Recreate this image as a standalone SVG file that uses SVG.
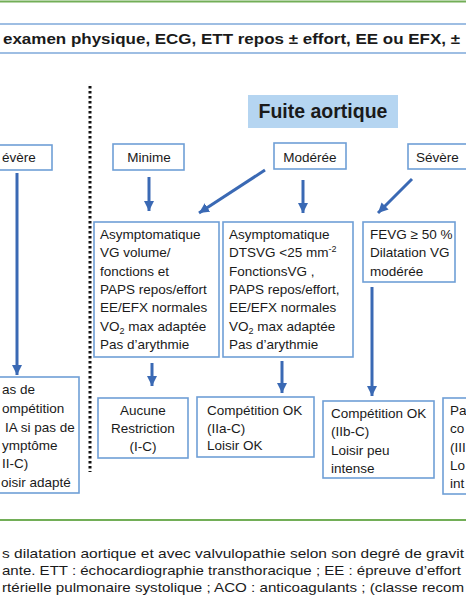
<svg xmlns="http://www.w3.org/2000/svg" width="466" height="600" viewBox="0 0 466 600">
<defs>
<style>
text{font-family:"Liberation Sans",Arial,sans-serif;fill:#1a1a1a}
.t{font-size:13.5px}
.box{fill:#fff;stroke:#6f9fd6;stroke-width:1.6}
.c{stroke:#3a69b4;stroke-width:3;fill:none}
.sub{font-size:9px}
</style>
<marker id="ah" viewBox="0 0 10 10" refX="10" refY="5" markerWidth="10" markerHeight="10" markerUnits="userSpaceOnUse" orient="auto">
<path d="M0,0 L10,5 L0,10 z" fill="#3a69b4"/>
</marker>
</defs>
<rect width="466" height="600" fill="#fff"/>
<line x1="0" y1="1.5" x2="466" y2="1.5" stroke="#72ae57" stroke-width="2"/>
<line x1="0" y1="24" x2="466" y2="24" stroke="#7ea8da" stroke-width="1.6"/>
<line x1="0" y1="53" x2="466" y2="53" stroke="#7ea8da" stroke-width="1.6"/>
<text x="3" y="44" font-weight="bold" font-size="15.5" textLength="457" lengthAdjust="spacingAndGlyphs">examen physique, ECG, ETT repos ± effort, EE ou EFX, ±</text>
<line x1="90" y1="86" x2="90" y2="472" stroke="#111" stroke-width="3" stroke-dasharray="2.5,2.5"/>

<g id="fuite">
<rect x="248" y="95" width="150" height="33" fill="#b5d5f1"/>
<text x="323" y="118" font-weight="bold" font-size="19.5" text-anchor="middle">Fuite aortique</text>
</g>
<g id="severe-left">
<rect class="box" x="-20" y="145" width="72" height="25"/>
<text class="t" x="2" y="162">évère</text>
</g>
<g id="minime">
<rect class="box" x="113" y="144" width="71" height="26"/>
<text class="t" x="149" y="162" text-anchor="middle">Minime</text>
</g>
<g id="moderee">
<rect class="box" x="274" y="143" width="72" height="26"/>
<text class="t" x="310" y="162" text-anchor="middle">Modérée</text>
</g>
<g id="severe-right">
<rect class="box" x="408" y="144" width="70" height="25"/>
<text class="t" x="416" y="162">Sévère</text>
</g>

<g id="boxA">
<rect class="box" x="94" y="222" width="125" height="135"/>
<text class="t" x="100" y="239">Asymptomatique</text>
<text class="t" x="100" y="257">VG volume/</text>
<text class="t" x="100" y="276">fonctions et</text>
<text class="t" x="100" y="294">PAPS repos/effort</text>
<text class="t" x="100" y="312">EE/EFX normales</text>
<text class="t" x="100" y="331">VO<tspan class="sub" dy="3">2</tspan><tspan dy="-3"> max adaptée</tspan></text>
<text class="t" x="100" y="349">Pas d’arythmie</text>
</g>
<g id="boxB">
<rect class="box" x="223" y="222" width="130" height="135"/>
<text class="t" x="229" y="239">Asymptomatique</text>
<text class="t" x="229" y="257">DTSVG &lt;25 mm<tspan class="sub" dy="-5">-2</tspan></text>
<text class="t" x="229" y="276">FonctionsVG ,</text>
<text class="t" x="229" y="294">PAPS repos/effort,</text>
<text class="t" x="229" y="312">EE/EFX normales</text>
<text class="t" x="229" y="331">VO<tspan class="sub" dy="3">2</tspan><tspan dy="-3"> max adaptée</tspan></text>
<text class="t" x="229" y="349">Pas d’arythmie</text>
</g>
<g id="boxC">
<rect class="box" x="363" y="222" width="92" height="60"/>
<text class="t" x="370" y="239">FEVG ≥ 50 %</text>
<text class="t" x="370" y="257">Dilatation VG</text>
<text class="t" x="370" y="276">modérée</text>
</g>

<g id="left-result">
<rect class="box" x="-20" y="377" width="99" height="116"/>
<text class="t" x="2" y="394">as de</text>
<text class="t" x="2" y="413">ompétition</text>
<text class="t" x="5" y="432">IA si pas de</text>
<text class="t" x="2" y="450">ymptôme</text>
<text class="t" x="2" y="468">II-C)</text>
<text class="t" x="1" y="487">oisir adapté</text>
</g>
<g id="aucune">
<rect class="box" x="98" y="398" width="90" height="60"/>
<text class="t" x="143" y="415" text-anchor="middle">Aucune</text>
<text class="t" x="143" y="433" text-anchor="middle">Restriction</text>
<text class="t" x="143" y="451" text-anchor="middle">(I-C)</text>
</g>
<g id="comp-iia">
<rect class="box" x="197" y="397" width="117" height="60"/>
<text class="t" x="207" y="415">Compétition OK</text>
<text class="t" x="207" y="433">(IIa-C)</text>
<text class="t" x="207" y="450">Loisir OK</text>
</g>
<g id="comp-iib">
<rect class="box" x="323" y="401" width="111" height="77"/>
<text class="t" x="331" y="418">Compétition OK</text>
<text class="t" x="331" y="436">(IIb-C)</text>
<text class="t" x="331" y="455">Loisir peu</text>
<text class="t" x="331" y="473">intense</text>
</g>
<g id="right-result">
<rect class="box" x="443" y="398" width="40" height="96"/>
<text class="t" x="450" y="415">Pa</text>
<text class="t" x="450" y="433">co</text>
<text class="t" x="450" y="452">(III</text>
<text class="t" x="450" y="470">Lo</text>
<text class="t" x="450" y="488">int</text>
</g>

<g id="connectors">
<path class="c" d="M17,173 L17,375" marker-end="url(#ah)"/>
<path class="c" d="M149,177 L149,211" marker-end="url(#ah)"/>
<path class="c" d="M265,170 L199,213" marker-end="url(#ah)"/>
<path class="c" d="M303,180 L303,213" marker-end="url(#ah)"/>
<path class="c" d="M412,179 L378,213" marker-end="url(#ah)"/>
<path class="c" d="M152,363 L152,386" marker-end="url(#ah)"/>
<path class="c" d="M282,361 L282,393" marker-end="url(#ah)"/>
<path class="c" d="M372,287 L372,396" marker-end="url(#ah)"/>
</g>

<line x1="0" y1="520" x2="466" y2="520" stroke="#72ae57" stroke-width="2"/>
<text x="2" y="558" font-size="13.5" textLength="462" lengthAdjust="spacingAndGlyphs">s dilatation aortique et avec valvulopathie selon son degré de gravit</text>
<text x="2" y="575" font-size="13.5" textLength="459" lengthAdjust="spacingAndGlyphs">ante. ETT : échocardiographie transthoracique ; EE : épreuve d’effort</text>
<text x="2" y="592" font-size="13.5" textLength="462" lengthAdjust="spacingAndGlyphs">rtérielle pulmonaire systolique ; ACO : anticoagulants ; (classe recom</text>
</svg>
